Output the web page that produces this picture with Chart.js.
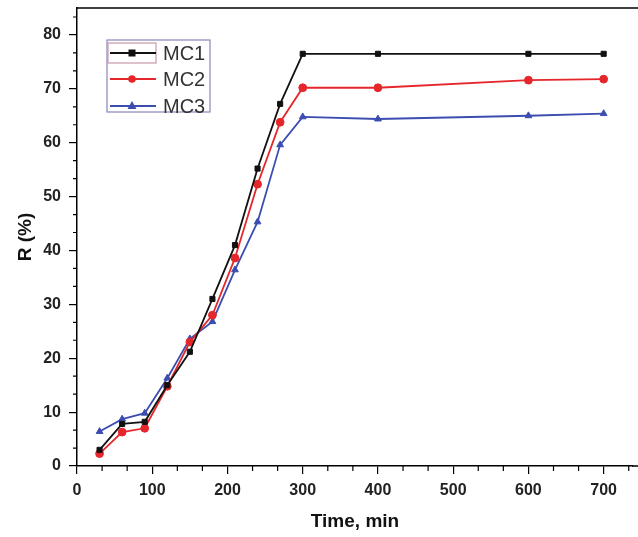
<!DOCTYPE html>
<html>
<head>
<meta charset="utf-8">
<script src="https://cdn.jsdelivr.net/npm/chart.js@4"></script>
<style>
html,body{margin:0;padding:0;background:#fff;overflow:hidden;}
#wrap{width:638px;height:537px;position:relative;}
canvas{display:block;}
</style>
</head>
<body>
<div id="wrap"><canvas id="c" width="638" height="537"></canvas></div>
<script>
const times = [30, 60, 90, 120, 150, 180, 210, 240, 270, 300, 400, 600, 700];
const mc1 = [3.0, 7.8, 8.2, 15.0, 21.2, 31.0, 41.0, 55.2, 67.2, 76.5, 76.5, 76.5, 76.5];
const mc2 = [2.3, 6.3, 7.0, 14.8, 23.0, 28.0, 38.6, 52.3, 63.8, 70.2, 70.2, 71.6, 71.8];
const mc3 = [6.4, 8.7, 9.8, 16.3, 23.6, 26.8, 36.4, 45.3, 59.6, 64.8, 64.4, 65.0, 65.4];
const seriesNames = ['MC1', 'MC2', 'MC3'];
const xTickValues = [0, 100, 200, 300, 400, 500, 600, 700];
const yTickValues = [0, 10, 20, 30, 40, 50, 60, 70, 80];

const colors = ['#111111', '#e5262b', '#3c4db0'];
const shapes = ['rect', 'circle', 'triangle'];
const allSeries = [mc1, mc2, mc3];

const datasets = allSeries.map((s, i) => ({
  label: seriesNames[i],
  data: times.map((t, j) => ({x: t, y: s[j]})),
  borderColor: colors[i],
  backgroundColor: colors[i],
  borderWidth: 1.8,
  pointStyle: shapes[i],
  pointRadius: i === 0 ? 3.6 : 3.9,
  pointBorderWidth: 1,
  showLine: true,
  tension: 0
}));

const frameAndMinor = {
  id: 'frameAndMinor',
  afterDraw(chart) {
    const ctx = chart.ctx;
    const a = chart.chartArea;
    const xs = chart.scales.x, ys = chart.scales.y;
    ctx.save();
    ctx.strokeStyle = '#000';
    ctx.lineWidth = 1.5;
    ctx.beginPath();
    ctx.moveTo(a.left, a.top); ctx.lineTo(chart.width, a.top);
    ctx.moveTo(a.right - 1, a.bottom); ctx.lineTo(chart.width, a.bottom);
    ctx.stroke();
    ctx.lineWidth = 1.2;
    ctx.beginPath();
    for (let m = 0; m <= xs.max; m += 100) {
      for (let k = 1; k <= 2; k++) {
        const v = m + k * 100 / 3;
        if (v > xs.max) continue;
        const px = xs.getPixelForValue(v);
        ctx.moveTo(px, a.bottom); ctx.lineTo(px, a.bottom + 5);
      }
    }
    for (let m = 0; m <= ys.max; m += 10) {
      for (let k = 1; k <= 2; k++) {
        const v = m + k * 10 / 3;
        if (v > ys.max) continue;
        const py = ys.getPixelForValue(v);
        ctx.moveTo(a.left, py); ctx.lineTo(a.left - 4, py);
      }
    }
    ctx.stroke();
    // legend
    const lx = 107, ly = 40, lw = 103, lh = 72;
    ctx.strokeStyle = '#8a84b8';
    ctx.lineWidth = 1.2;
    ctx.strokeRect(lx, ly, lw, lh);
    ctx.strokeStyle = '#c79aad';
    ctx.strokeRect(lx + 1, 43, 48, 20);
    const rowsY = [53, 79, 106];
    ctx.font = '20px "Liberation Sans", Arial, sans-serif';
    ctx.textBaseline = 'middle';
    ctx.textAlign = 'left';
    chart.data.datasets.forEach((d, i) => {
      const y = rowsY[i];
      ctx.strokeStyle = d.borderColor;
      ctx.lineWidth = 1.8;
      ctx.beginPath(); ctx.moveTo(110, y); ctx.lineTo(156, y); ctx.stroke();
      ctx.fillStyle = d.backgroundColor;
      const cx = 132;
      if (d.pointStyle === 'rect') { ctx.fillRect(cx - 3.5, y - 3.5, 7, 7); }
      else if (d.pointStyle === 'circle') { ctx.beginPath(); ctx.arc(cx, y, 3.8, 0, Math.PI * 2); ctx.fill(); }
      else { ctx.beginPath(); ctx.moveTo(cx, y - 5); ctx.lineTo(cx + 4.5, y + 3); ctx.lineTo(cx - 4.5, y + 3); ctx.closePath(); ctx.fill(); }
      ctx.fillStyle = '#333';
      ctx.fillText(d.label, 163, y + 1);
    });
    ctx.restore();
  }
};

new Chart(document.getElementById('c'), {
  type: 'scatter',
  data: {datasets},
  plugins: [frameAndMinor],
  options: {
    responsive: false,
    animation: false,
    layout: {padding: {top: 8, right: 0, left: 0, bottom: 0}},
    plugins: {legend: {display: false}, tooltip: {enabled: false}},
    scales: {
      x: {
        type: 'linear', min: 0, max: 739,
        afterFit(s) { s.height = 71; s.paddingLeft = 0; s.paddingRight = 0; },
        afterBuildTicks(s) { s.ticks = xTickValues.map(v => ({value: v})); },
        grid: {drawOnChartArea: false, drawTicks: true, tickLength: 8, color: '#000', lineWidth: 1.2},
        border: {display: true, color: '#000', width: 1.5},
        ticks: {color: '#222', padding: 7, maxRotation: 0, font: {family: '"Liberation Sans", Arial, sans-serif', size: 16, weight: 'bold'}},
        title: {display: true, text: 'Time, min', color: '#111', padding: {top: 0, bottom: 4}, font: {family: '"Liberation Sans", Arial, sans-serif', size: 19, weight: 'bold'}}
      },
      y: {
        type: 'linear', min: 0, max: 85,
        afterFit(s) { s.width = 77; s.paddingTop = 0; s.paddingBottom = 0; },
        afterBuildTicks(s) { s.ticks = yTickValues.map(v => ({value: v})); },
        grid: {drawOnChartArea: false, drawTicks: true, tickLength: 8, color: '#000', lineWidth: 1.2},
        border: {display: true, color: '#000', width: 1.5},
        ticks: {color: '#222', padding: 8, font: {family: '"Liberation Sans", Arial, sans-serif', size: 16, weight: 'bold'}},
        title: {display: true, text: 'R (%)', color: '#111', padding: {top: 14, bottom: 0}, font: {family: '"Liberation Sans", Arial, sans-serif', size: 19, weight: 'bold'}}
      }
    }
  }
});
</script>
</body>
</html>
